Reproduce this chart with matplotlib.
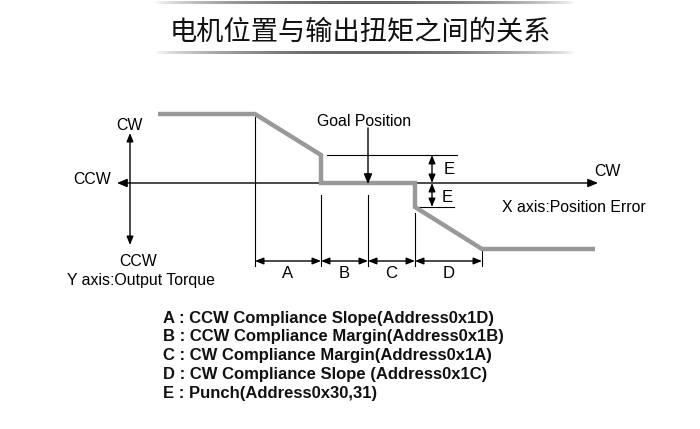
import matplotlib
matplotlib.use("Agg")
import matplotlib.pyplot as plt
import numpy as np

plt.rcParams['font.family'] = ['Liberation Sans', 'DejaVu Sans']

title = '电机位置与输出扭矩之间的关系'

# torque curve (pixel coords of the drawing)
curve_x = [158, 255, 321, 321, 415, 415, 482, 595]
curve_y = [114, 114, 155, 183, 183, 207, 249, 249]

# region boundaries and labels
bound_x = [255, 321, 368, 415, 482]
bound_top = [117, 195, 195, 213, 250]
region_labels = ['A', 'B', 'C', 'D']

legend_lines = [
    'A : CCW Compliance Slope(Address0x1D)',
    'B : CCW Compliance Margin(Address0x1B)',
    'C : CW Compliance Margin(Address0x1A)',
    'D : CW Compliance Slope (Address0x1C)',
    'E : Punch(Address0x30,31)',
]

fig = plt.figure(figsize=(7, 4.29), dpi=100)
ax = fig.add_axes([0, 0, 1, 1])
ax.axis('off')

# title with gradient rules
t = np.linspace(0, 1, 400)
shade = 1 - 0.6 * np.sin(np.pi * t) ** 0.7
grad = np.dstack([shade, shade, shade]).reshape(1, -1, 3)
ax.imshow(grad, extent=(155, 575, 4, 1), aspect='auto', zorder=1)
ax.imshow(grad, extent=(155, 575, 54, 51), aspect='auto', zorder=1)
ax.text(360, 32, title, fontsize=19.6, ha='center', va='center',
        family=['Noto Sans CJK SC'], color='#111111')

ax.set_xlim(0, 700)
ax.set_ylim(429, 0)

head = dict(arrowstyle='-|>,head_length=0.6,head_width=0.25', color='black',
            lw=1, shrinkA=0, shrinkB=0)
dbl = dict(arrowstyle='<|-|>,head_length=0.5,head_width=0.2', color='black',
           lw=1, shrinkA=0, shrinkB=0)

# x axis
ax.annotate('', xy=(598, 183), xytext=(360, 183), arrowprops=head)
ax.annotate('', xy=(117, 183), xytext=(360, 183), arrowprops=head)
# y axis
ax.annotate('', xy=(130, 133), xytext=(130, 245), arrowprops=dbl)

# torque curve
ax.plot(curve_x, curve_y, color='#999999', lw=3.2, solid_joinstyle='miter',
        solid_capstyle='butt', zorder=3)

# boundary lines
for bx, bt in zip(bound_x, bound_top):
    ax.plot([bx, bx], [bt, 266], color='black', lw=0.8)
for i, lab in enumerate(region_labels):
    ax.annotate('', xy=(bound_x[i], 261), xytext=(bound_x[i + 1], 261), arrowprops=dbl)
    ax.text((bound_x[i] + bound_x[i + 1]) / 2, 274, lab, fontsize=12,
            ha='center', va='center')

# goal position
ax.text(364, 121, 'Goal Position', fontsize=11.4, ha='center', va='center')
ax.annotate('', xy=(368, 184), xytext=(368, 128), arrowprops=head)

# E dimension
ax.plot([327, 457], [155, 155], color='black', lw=0.8)
ax.plot([415, 454], [207, 207], color='black', lw=0.8)
ax.annotate('', xy=(432, 155), xytext=(432, 183), arrowprops=dbl)
ax.annotate('', xy=(432, 183), xytext=(432, 207), arrowprops=dbl)
ax.text(444, 170, 'E', fontsize=12, ha='left', va='center')
ax.text(442, 198, 'E', fontsize=12, ha='left', va='center')

# axis labels
ax.text(129, 126, 'CW', fontsize=11.4, ha='center', va='center')
ax.text(92, 179, 'CCW', fontsize=11.4, ha='center', va='center')
ax.text(138, 261, 'CCW', fontsize=11.4, ha='center', va='center')
ax.text(67, 280, 'Y axis:Output Torque', fontsize=11.4, ha='left', va='center')
ax.text(607, 172, 'CW', fontsize=11.4, ha='center', va='center')
ax.text(502, 208, 'X axis:Position Error', fontsize=11.4, ha='left', va='center')

# legend text
for i, line in enumerate(legend_lines):
    ax.text(163, 318 + i * 18.8, line, fontsize=12, fontweight='bold',
            ha='left', va='center', color='#111111')

fig.savefig('out.png', dpi=100)
plt.close(fig)
